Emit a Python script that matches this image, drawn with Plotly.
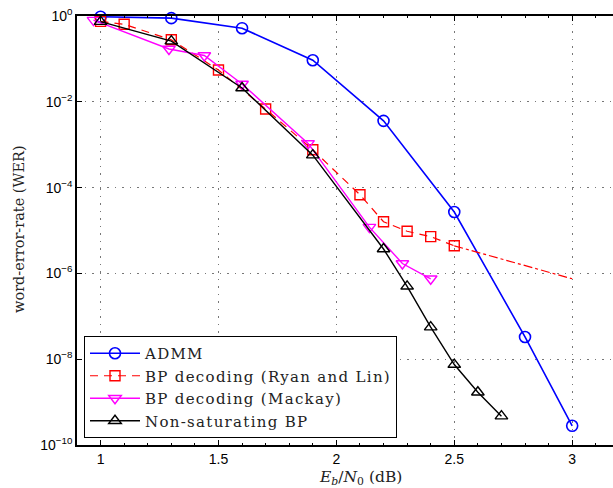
import plotly.graph_objects as go

# ---- data ----
admm_x = [1.0, 1.3, 1.6, 1.9, 2.2, 2.5, 2.8, 3.0]
admm_y = [0.96, 0.89, 0.52, 0.093, 3.6e-3, 2.7e-5, 3.3e-8, 2.8e-10]

ryan_x = [1.0, 1.1, 1.3, 1.5, 1.7, 1.9, 2.1, 2.2, 2.3, 2.4, 2.5]
ryan_y = [0.75, 0.64, 0.28, 0.055, 6.8e-3, 7.6e-4, 6.8e-5, 1.6e-5, 9.6e-6, 7.2e-6, 4.4e-6]
ryan_tail_x = [2.5, 3.0]
ryan_tail_y = [4.4e-6, 7.5e-7]

mackay_x = [0.97, 1.29, 1.44, 1.6, 1.88, 2.14, 2.28, 2.4]
mackay_y = [0.8, 0.17, 0.12, 0.026, 1.07e-3, 1.2e-5, 1.7e-6, 7.5e-7]

nsbp_x = [1.0, 1.3, 1.6, 1.9, 2.2, 2.3, 2.4, 2.5, 2.6, 2.7]
nsbp_y = [0.74, 0.26, 0.021, 5.7e-4, 3.7e-6, 5.0e-7, 5.6e-8, 7.5e-9, 1.7e-9, 4.7e-10]

series_names = ["ADMM", "BP decoding (Ryan and Lin)", "BP decoding (Mackay)", "Non-saturating BP"]

x_ticks = [1, 1.5, 2, 2.5, 3]
x_tick_labels = ["1", "1.5", "2", "2.5", "3"]
y_ticks = [1e0, 1e-2, 1e-4, 1e-6, 1e-8, 1e-10]
y_tick_labels = ["10<sup>0</sup>", "10<sup>−2</sup>", "10<sup>−4</sup>",
                 "10<sup>−6</sup>", "10<sup>−8</sup>", "10<sup>−10</sup>"]

SERIF = "DejaVu Serif"
SANS = "Liberation Sans"

W, H = 613, 488
L, T, B = 77, 16, 43
PW, PH = W - L, H - T - B


def px_x(px):
    return (px - L) / PW


def px_y(py):
    return (T + PH - py) / PH


def leg(name):
    return '<span style="letter-spacing:1.3px">' + name + '</span>'


fig = go.Figure()
fig.add_trace(go.Scatter(
    x=admm_x, y=admm_y, mode="lines+markers", name=leg(series_names[0]), cliponaxis=False,
    line=dict(color="#0000ff", width=1.6),
    marker=dict(symbol="circle-open", size=11, color="#0000ff", line=dict(width=1.6))))
fig.add_trace(go.Scatter(
    x=ryan_x, y=ryan_y, mode="lines+markers", name=leg(series_names[1]), cliponaxis=False,
    line=dict(color="#ff0000", width=1.2, dash="8px,6px"),
    marker=dict(symbol="square-open", size=10, color="#ff0000", line=dict(width=1.4))))
fig.add_trace(go.Scatter(
    x=ryan_tail_x, y=ryan_tail_y, mode="lines", showlegend=False,
    line=dict(color="#ff0000", width=1.2, dash="dashdot")))
fig.add_trace(go.Scatter(
    x=mackay_x, y=mackay_y, mode="lines+markers", name=leg(series_names[2]), cliponaxis=False,
    line=dict(color="#ff00ff", width=1.4),
    marker=dict(symbol="triangle-down-open", size=11, color="#ff00ff", line=dict(width=1.4))))
fig.add_trace(go.Scatter(
    x=nsbp_x, y=nsbp_y, mode="lines+markers", name=leg(series_names[3]), cliponaxis=False,
    line=dict(color="#000000", width=1.4),
    marker=dict(symbol="triangle-up-open", size=11, color="#000000", line=dict(width=1.4))))

fig.update_layout(
    width=W, height=H,
    margin=dict(l=L, r=0, t=T, b=B, pad=0),
    paper_bgcolor="white", plot_bgcolor="white",
    showlegend=True,
    legend=dict(
        x=px_x(84), y=px_y(438), xanchor="left", yanchor="bottom",
        bgcolor="white", bordercolor="black", borderwidth=1,
        font=dict(family=SERIF, size=15, color="#222"),
        itemwidth=50, tracegroupgap=0,
    ),
    xaxis=dict(
        range=[0.9, 0.9 + PW / 235.8], tickvals=x_ticks, ticktext=x_tick_labels,
        showline=True, linecolor="black", linewidth=1.5, mirror="ticks",
        ticks="inside", ticklen=5, tickcolor="black",
        showgrid=True, gridcolor="#777", griddash="1.5px,6px", gridwidth=1,
        minor=dict(dtick=0.1, ticks="inside", ticklen=2, tickcolor="black", showgrid=False),
        tickfont=dict(family=SANS, size=14, color="black"),
        zeroline=False, automargin=False, ticklabeloverflow="allow",
    ),
    yaxis=dict(
        type="log", range=[-10, 0], tickvals=y_ticks, ticktext=y_tick_labels,
        showline=True, linecolor="black", linewidth=1.5, mirror=False,
        ticks="inside", ticklen=5, tickcolor="black",
        showgrid=True, gridcolor="#777", griddash="1.5px,6px", gridwidth=1,
        tickfont=dict(family=SANS, size=14, color="black"),
        zeroline=False, automargin=False, ticklabeloverflow="allow",
    ),
)

fig.add_annotation(
    text="word-error-rate (WER)", textangle=-90,
    xref="paper", yref="paper", x=px_x(19), y=px_y(229),
    xanchor="center", yanchor="middle", showarrow=False,
    font=dict(family=SERIF, size=14.5, color="#222"),
)
fig.add_annotation(
    text="<i>E</i><sub><i>b</i></sub>/<i>N</i><sub>0</sub> (dB)",
    xref="paper", yref="paper", x=px_x(360), y=px_y(478),
    xanchor="center", yanchor="middle", showarrow=False,
    font=dict(family=SERIF, size=15.5, color="#222"),
)

fig.write_html(
    "out.html",
    config={"displayModeBar": False},
    post_script="document.body.style.margin='0';document.body.style.overflow='hidden';",
)
